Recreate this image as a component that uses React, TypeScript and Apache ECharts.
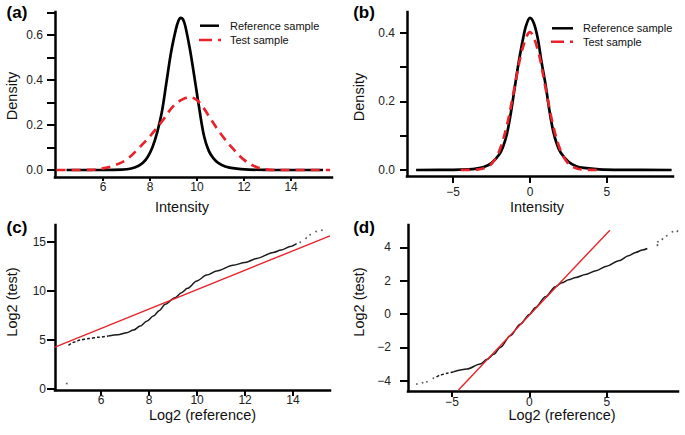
import React, { useEffect, useRef } from "react";
import * as echarts from "echarts";

// Panel (a): density, raw intensities
const refA_x = [4.45, 6.0, 6.8, 7.2, 7.5, 7.7, 7.9, 8.1, 8.3, 8.5, 8.7, 8.9, 9.1, 9.2, 9.3, 9.4, 9.5, 9.7, 9.9, 10.1, 10.3, 10.5, 10.7, 10.9, 11.2, 11.6, 12.2, 13.0, 15.36];
const refA_y = [0, 0, 0.002, 0.007, 0.018, 0.032, 0.058, 0.1, 0.165, 0.255, 0.39, 0.525, 0.625, 0.66, 0.676, 0.67, 0.64, 0.535, 0.405, 0.27, 0.15, 0.085, 0.052, 0.032, 0.016, 0.007, 0.002, 0.0005, 0];
const testA_x = [4.03, 5.0, 5.5, 6.0, 6.5, 7.0, 7.5, 8.0, 8.5, 9.0, 9.4, 9.7, 10.0, 10.25, 10.5, 11.0, 11.5, 12.0, 12.5, 13.0, 13.5, 15.66];
const testA_y = [0, 0, 0.001, 0.007, 0.021, 0.046, 0.095, 0.15, 0.215, 0.285, 0.315, 0.323, 0.31, 0.28, 0.24, 0.162, 0.098, 0.045, 0.014, 0.002, 0, 0];

// Panel (b): density, normalised intensities
const refB_x = [-7.4, -5, -4, -3.5, -3, -2.5, -2.0, -1.75, -1.5, -1.25, -1.0, -0.75, -0.5, -0.25, 0, 0.25, 0.5, 0.75, 1.0, 1.25, 1.5, 1.75, 2.0, 2.5, 3.0, 3.5, 4.5, 6, 9.2];
const refB_y = [0, 0.0005, 0.002, 0.004, 0.009, 0.02, 0.045, 0.068, 0.105, 0.165, 0.238, 0.31, 0.372, 0.422, 0.444, 0.428, 0.385, 0.315, 0.252, 0.177, 0.115, 0.075, 0.05, 0.024, 0.011, 0.006, 0.002, 0.0005, 0];
const testB_x = [-4.5, -4, -3.5, -3, -2.5, -2, -1.5, -1, -0.5, 0, 0.5, 1, 1.5, 2, 2.5, 3, 3.5, 4, 4.4];
const testB_y = [0, 0.0002, 0.001, 0.005, 0.018, 0.055, 0.13, 0.242, 0.352, 0.402, 0.352, 0.242, 0.13, 0.055, 0.018, 0.005, 0.001, 0.0002, 0];

// Panel (c): QQ plot, raw
const qqC_head_x = [4.64, 4.9, 5.13, 5.5, 5.9, 6.3];
const qqC_head_y = [4.44, 4.8, 5.0, 5.15, 5.27, 5.39];
const qqC_x = [6.3, 6.7, 7.07, 7.35, 7.63, 7.9, 8.18, 8.43, 8.67, 9.08, 9.35, 9.6, 9.99, 10.4, 10.82, 11.5, 12.0, 12.49, 13.18, 13.5, 13.88, 14.15];
const qqC_y = [5.39, 5.52, 5.73, 6.0, 6.41, 6.9, 7.43, 8.0, 8.62, 9.3, 9.8, 10.25, 11.0, 11.6, 12.02, 12.6, 12.88, 13.3, 13.9, 14.15, 14.5, 14.8];
const qqC_dots_x = [4.57, 14.3, 14.54, 14.71, 14.96, 15.2];
const qqC_dots_y = [0.56, 14.95, 15.36, 15.7, 16.04, 16.17];
const lineC_x = [4.08, 15.54];
const lineC_y = [4.27, 15.6];

// Panel (d): QQ plot, normalised
const qqD_dots_head_x = [-7.27, -6.9, -6.62, -6.2];
const qqD_dots_head_y = [-4.2, -4.12, -4.06, -3.85];
const qqD_head_x = [-6.0, -5.76, -5.3, -4.9];
const qqD_head_y = [-3.78, -3.66, -3.55, -3.46];
const qqD_x = [-4.9, -4.03, -3.17, -2.74, -2.3, -1.88, -1.23, -0.58, 0, 0.39, 1.04, 1.68, 2.1, 2.54, 3.0, 3.62, 4.3, 5.0, 5.78, 6.4, 6.86, 7.3, 7.62];
const qqD_y = [-3.46, -3.3, -3.0, -2.72, -2.42, -2.0, -1.3, -0.6, -0.02, 0.4, 1.04, 1.64, 1.88, 2.06, 2.2, 2.38, 2.6, 2.88, 3.2, 3.5, 3.7, 3.85, 3.94];
const qqD_dots_x = [8.27, 8.3, 8.59, 8.87, 9.24, 9.56];
const qqD_dots_y = [4.14, 4.34, 4.5, 4.7, 4.94, 4.98];
const lineD_x = [-4.58, 5.2];
const lineD_y = [-4.56, 5.04];

// Tick values
const ticksA_x = [6, 8, 10, 12, 14];
const ticksA_y = [0, 0.1, 0.2, 0.3, 0.4, 0.5, 0.6, 0.7];
const labelsA_y = [0, 0.2, 0.4, 0.6];
const ticksB_x = [-5, 0, 5];
const ticksB_y = [0, 0.1, 0.2, 0.3, 0.4];
const labelsB_y = [0, 0.2, 0.4];
const ticksC_x = [6, 8, 10, 12, 14];
const ticksC_y = [0, 5, 10, 15];
const ticksD_x = [-5, 0, 5];
const ticksD_y = [-4, -2, 0, 2, 4];

const zip = (xs: number[], ys: number[]) => xs.map((x, i) => [x, ys[i]]);

const FONT = "'Liberation Sans', Arial, Helvetica, sans-serif";
const RED = "#e8232b";

const minus = (s: string) => s.replace("-", "\u2212");

function axis(
  gridIndex: number,
  min: number,
  max: number,
  ticks: number[],
  labels: number[],
  margin: number,
  tickLen: number,
  fmt: (v: number) => string
) {
  return {
    type: "value",
    gridIndex,
    min,
    max,
    splitLine: { show: false },
    axisLine: { show: true, onZero: false, lineStyle: { color: "#000", width: 2.5, cap: "square" } },
    axisTick: { show: true, customValues: ticks, length: tickLen, lineStyle: { color: "#000", width: 2 } },
    axisLabel: {
      customValues: labels,
      margin,
      color: "#222",
      fontSize: 12,
      fontFamily: FONT,
      formatter: (v: number) => fmt(v),
    },
  };
}

const f1 = (v: number) => v.toFixed(1);
const f0 = (v: number) => minus(String(Math.round(v)));

function text(x: number, y: number, t: string, opts: any = {}) {
  return {
    type: "text",
    x,
    y,
    rotation: opts.rotation || 0,
    style: {
      text: t,
      fill: opts.fill || "#111",
      fontSize: opts.fontSize || 14.5,
      fontFamily: FONT,
      fontWeight: opts.fontWeight || "normal",
      align: opts.align || "center",
      verticalAlign: "middle",
    },
  };
}

function seg(x1: number, y1: number, x2: number, y2: number, stroke: string, dash?: number[]) {
  return {
    type: "line",
    shape: { x1, y1, x2, y2 },
    style: { stroke, lineWidth: 2.5, lineDash: dash || null },
  };
}

export default function App() {
  const ref = useRef<HTMLDivElement>(null);
  useEffect(() => {
    document.body.style.margin = "0";
    const chart = echarts.init(ref.current!, undefined, { renderer: "svg" });
    const densLine = (xi: number, xs: number[], ys: number[], color: string, dashed: boolean) => ({
      type: "line",
      xAxisIndex: xi,
      yAxisIndex: xi,
      data: zip(xs, ys),
      showSymbol: false,
      smooth: 0.35,
      lineStyle: { color, width: 2.7, type: dashed ? [9, 6] : "solid" },
      z: dashed ? 3 : 2,
    });
    const qqLine = (xi: number, xs: number[], ys: number[], dash?: number[]) => ({
      type: "line",
      xAxisIndex: xi,
      yAxisIndex: xi,
      data: zip(xs, ys),
      showSymbol: false,
      smooth: 0.3,
      smoothMonotone: "x",
      lineStyle: { color: "#1a1a1a", width: 1.5, type: dash || "solid" },
    });
    const dots = (xi: number, xs: number[], ys: number[]) => ({
      type: "scatter",
      xAxisIndex: xi,
      yAxisIndex: xi,
      data: zip(xs, ys),
      symbolSize: 1.8,
      itemStyle: { color: "#333" },
    });
    const redLine = (xi: number, xs: number[], ys: number[]) => ({
      type: "line",
      xAxisIndex: xi,
      yAxisIndex: xi,
      data: zip(xs, ys),
      showSymbol: false,
      lineStyle: { color: RED, width: 1.4 },
      z: 4,
    });

    chart.setOption({
      animation: false,
      backgroundColor: "#fff",
      grid: [
        { left: 55, top: 12, width: 277, height: 165, outerBoundsMode: "none" },
        { left: 407, top: 12, width: 266, height: 164, outerBoundsMode: "none" },
        { left: 55, top: 225, width: 275, height: 165, outerBoundsMode: "none" },
        { left: 408, top: 225, width: 270, height: 166, outerBoundsMode: "none" },
      ],
      xAxis: [
        axis(0, 3.96, 15.74, ticksA_x, ticksA_x, 3.5, 4, f0),
        axis(1, -7.99, 9.29, ticksB_x, ticksB_x, 10, 7, f0),
        axis(2, 4.08, 15.54, ticksC_x, ticksC_x, 4, 6, f0),
        axis(3, -7.84, 9.6, ticksD_x, ticksD_x, 4.5, 6, f0),
      ],
      yAxis: [
        axis(0, -0.031, 0.702, ticksA_y, labelsA_y, 12, 8, f1),
        axis(1, -0.0175, 0.461, ticksB_y, labelsB_y, 12, 7, f1),
        axis(2, -0.1, 16.7, ticksC_y, ticksC_y, 9, 8, f0),
        axis(3, -4.62, 5.35, ticksD_y, ticksD_y, 17, 8, f0),
      ],
      series: [
        densLine(0, refA_x, refA_y, "#000", false),
        densLine(0, testA_x, testA_y, RED, true),
        densLine(1, refB_x, refB_y, "#000", false),
        densLine(1, testB_x, testB_y, RED, true),
        qqLine(2, qqC_head_x, qqC_head_y, [3, 2]),
        qqLine(2, qqC_x, qqC_y),
        dots(2, qqC_dots_x, qqC_dots_y),
        redLine(2, lineC_x, lineC_y),
        dots(3, qqD_dots_head_x, qqD_dots_head_y),
        qqLine(3, qqD_head_x, qqD_head_y, [3, 2]),
        qqLine(3, qqD_x, qqD_y),
        dots(3, qqD_dots_x, qqD_dots_y),
        redLine(3, lineD_x, lineD_y),
      ],
      graphic: [
        text(17, 12.5, "(a)", { fontSize: 17, fontWeight: "bold", fill: "#000" }),
        text(364, 12.5, "(b)", { fontSize: 17, fontWeight: "bold", fill: "#000" }),
        text(17, 227.5, "(c)", { fontSize: 17, fontWeight: "bold", fill: "#000" }),
        text(364, 227.5, "(d)", { fontSize: 17, fontWeight: "bold", fill: "#000" }),
        text(182, 207, "Intensity"),
        text(12, 96, "Density", { rotation: Math.PI / 2 }),
        text(537, 207, "Intensity"),
        text(358.5, 97, "Density", { rotation: Math.PI / 2 }),
        text(202.5, 415, "Log2 (reference)"),
        text(12, 302, "Log2 (test)", { rotation: Math.PI / 2 }),
        text(562, 415, "Log2 (reference)"),
        text(358.5, 302, "Log2 (test)", { rotation: Math.PI / 2 }),
        seg(200, 25.7, 219, 25.7, "#000"),
        text(230, 25.7, "Reference sample", { fontSize: 11, align: "left" }),
        seg(199, 40, 223, 40, RED, [13, 6, 3, 100]),
        text(230, 40, "Test sample", { fontSize: 11, align: "left" }),
        seg(552, 28.3, 573, 28.3, "#000"),
        text(583, 28.3, "Reference sample", { fontSize: 11, align: "left" }),
        seg(551, 41.7, 575, 41.7, RED, [13, 6, 3, 100]),
        text(583, 41.7, "Test sample", { fontSize: 11, align: "left" }),
      ],
    });
    return () => chart.dispose();
  }, []);
  return <div ref={ref} style={{ position: "absolute", left: 0, top: 0, width: 685, height: 435 }} />;
}
